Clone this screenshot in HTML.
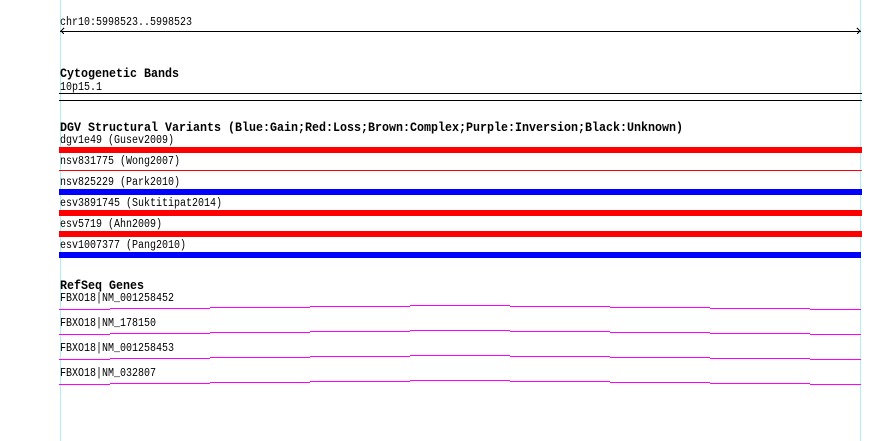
<!DOCTYPE html>
<html>
<head>
<meta charset="utf-8">
<style>
  html, body { margin: 0; padding: 0; background: #ffffff; }
  svg { display: block; }
  .t { font-family: "Liberation Mono", "DejaVu Sans Mono", monospace; font-size: 11.5px; fill: #000; }
  .b { font-family: "Liberation Mono", "DejaVu Sans Mono", monospace; font-size: 12.5px; font-weight: bold; fill: #000; }
</style>
</head>
<body>
<svg width="890" height="441" viewBox="0 0 890 441" xmlns="http://www.w3.org/2000/svg" shape-rendering="crispEdges">
  <rect x="0" y="0" width="890" height="441" fill="#ffffff"/>
  <rect x="60" y="0" width="1" height="441" fill="#b0eef2"/>
  <rect x="860" y="0" width="1" height="441" fill="#b0eef2"/>

  <text class="t" x="60" y="25" textLength="132" lengthAdjust="spacingAndGlyphs">chr10:5998523..5998523</text>
  <rect x="60" y="31" width="801" height="1" fill="#000"/>
  <polyline points="64,28 61,31 64,34" fill="none" stroke="#000" stroke-width="1"/>
  <polyline points="857,28 860,31 857,34" fill="none" stroke="#000" stroke-width="1"/>

  <text class="b" x="60" y="77" textLength="119" lengthAdjust="spacingAndGlyphs">Cytogenetic Bands</text>
  <text class="t" x="60" y="90" textLength="42" lengthAdjust="spacingAndGlyphs">10p15.1</text>
  <rect x="59" y="93" width="803" height="1" fill="#000"/>
  <rect x="59" y="100" width="803" height="1" fill="#000"/>

  <text class="b" x="60" y="131" textLength="623" lengthAdjust="spacingAndGlyphs">DGV Structural Variants (Blue:Gain;Red:Loss;Brown:Complex;Purple:Inversion;Black:Unknown)</text>

  <text class="t" x="60" y="143" textLength="114" lengthAdjust="spacingAndGlyphs">dgv1e49 (Gusev2009)</text>
  <rect x="59" y="147" width="803" height="6" fill="#ff0000"/>

  <text class="t" x="60" y="164" textLength="120" lengthAdjust="spacingAndGlyphs">nsv831775 (Wong2007)</text>
  <rect x="59" y="170" width="803" height="1" fill="#ff0000"/>

  <text class="t" x="60" y="185" textLength="120" lengthAdjust="spacingAndGlyphs">nsv825229 (Park2010)</text>
  <rect x="59" y="189" width="803" height="6" fill="#0000ff"/>

  <text class="t" x="60" y="206" textLength="162" lengthAdjust="spacingAndGlyphs">esv3891745 (Suktitipat2014)</text>
  <rect x="59" y="210" width="803" height="6" fill="#ff0000"/>

  <text class="t" x="60" y="227" textLength="102" lengthAdjust="spacingAndGlyphs">esv5719 (Ahn2009)</text>
  <rect x="59" y="231" width="803" height="6" fill="#ff0000"/>

  <text class="t" x="60" y="248" textLength="126" lengthAdjust="spacingAndGlyphs">esv1007377 (Pang2010)</text>
  <rect x="59" y="252" width="802" height="6" fill="#0000ff"/>

  <text class="b" x="60" y="289" textLength="84" lengthAdjust="spacingAndGlyphs">RefSeq Genes</text>

  <g fill="#ff00ff">
    <rect x="59" y="309" width="51" height="1"/>
    <rect x="110" y="308" width="100" height="1"/>
    <rect x="210" y="307" width="100" height="1"/>
    <rect x="310" y="306" width="100" height="1"/>
    <rect x="410" y="305" width="100" height="1"/>
    <rect x="510" y="306" width="100" height="1"/>
    <rect x="610" y="307" width="100" height="1"/>
    <rect x="710" y="308" width="100" height="1"/>
    <rect x="810" y="309" width="51" height="1"/>

    <rect x="59" y="334" width="51" height="1"/>
    <rect x="110" y="333" width="100" height="1"/>
    <rect x="210" y="332" width="100" height="1"/>
    <rect x="310" y="331" width="100" height="1"/>
    <rect x="410" y="330" width="100" height="1"/>
    <rect x="510" y="331" width="100" height="1"/>
    <rect x="610" y="332" width="100" height="1"/>
    <rect x="710" y="333" width="100" height="1"/>
    <rect x="810" y="334" width="51" height="1"/>

    <rect x="59" y="359" width="51" height="1"/>
    <rect x="110" y="358" width="100" height="1"/>
    <rect x="210" y="357" width="100" height="1"/>
    <rect x="310" y="356" width="100" height="1"/>
    <rect x="410" y="355" width="100" height="1"/>
    <rect x="510" y="356" width="100" height="1"/>
    <rect x="610" y="357" width="100" height="1"/>
    <rect x="710" y="358" width="100" height="1"/>
    <rect x="810" y="359" width="51" height="1"/>

    <rect x="59" y="384" width="51" height="1"/>
    <rect x="110" y="383" width="100" height="1"/>
    <rect x="210" y="382" width="100" height="1"/>
    <rect x="310" y="381" width="100" height="1"/>
    <rect x="410" y="380" width="100" height="1"/>
    <rect x="510" y="381" width="100" height="1"/>
    <rect x="610" y="382" width="100" height="1"/>
    <rect x="710" y="383" width="100" height="1"/>
    <rect x="810" y="384" width="51" height="1"/>
  </g>

  <text class="t" x="60" y="301" textLength="114" lengthAdjust="spacingAndGlyphs">FBXO18|NM_001258452</text>
  <text class="t" x="60" y="326" textLength="96" lengthAdjust="spacingAndGlyphs">FBXO18|NM_178150</text>
  <text class="t" x="60" y="351" textLength="114" lengthAdjust="spacingAndGlyphs">FBXO18|NM_001258453</text>
  <text class="t" x="60" y="376" textLength="96" lengthAdjust="spacingAndGlyphs">FBXO18|NM_032807</text>
</svg>
</body>
</html>
